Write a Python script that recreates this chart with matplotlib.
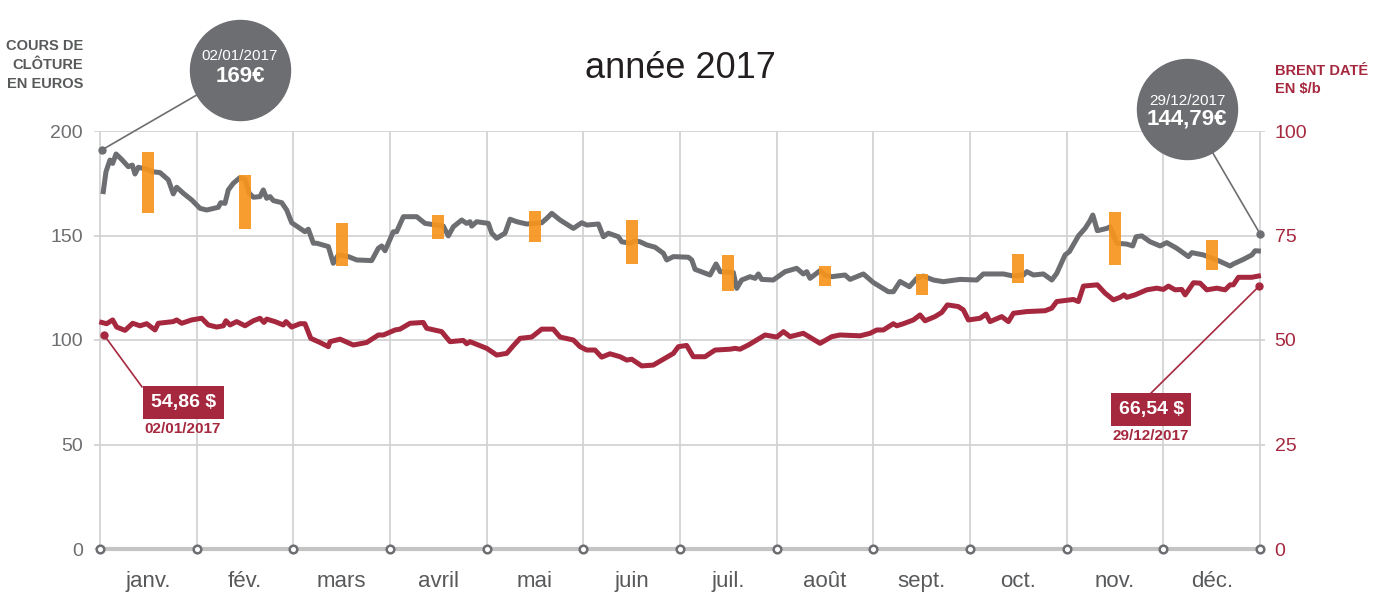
import matplotlib
matplotlib.use('Agg')
import matplotlib.pyplot as plt
import numpy as np

# position in months (0 = 1er janvier, 12 = 31 decembre)
cours_mois = [0.034, 0.062, 0.103, 0.131, 0.166, 0.224, 0.293, 0.334, 0.362, 0.396,
              0.483, 0.545, 0.621, 0.707, 0.758, 0.793, 0.862, 0.949, 1.034, 1.104,
              1.224, 1.249, 1.293, 1.327, 1.379, 1.448, 1.500, 1.544, 1.586, 1.655,
              1.689, 1.724, 1.759, 1.793, 1.880, 1.931, 1.983, 2.069, 2.120, 2.155,
              2.207, 2.242, 2.362, 2.413, 2.465, 2.569, 2.655, 2.810, 2.879, 2.914,
              2.948, 3.034, 3.068, 3.138, 3.276, 3.362, 3.551, 3.603, 3.655, 3.741,
              3.792, 3.827, 3.845, 3.896, 4.017, 4.052, 4.103, 4.189, 4.241, 4.310,
              4.414, 4.500, 4.569, 4.621, 4.673, 4.759, 4.896, 4.983, 5.034, 5.155,
              5.207, 5.258, 5.362, 5.397, 5.483, 5.534, 5.586, 5.655, 5.741, 5.827,
              5.862, 5.931, 6.086, 6.121, 6.155, 6.310, 6.372, 6.414, 6.551, 6.586,
              6.637, 6.724, 6.776, 6.810, 6.844, 6.964, 7.086, 7.206, 7.275, 7.310,
              7.344, 7.448, 7.500, 7.569, 7.706, 7.758, 7.896, 7.999, 8.154, 8.206,
              8.275, 8.372, 8.448, 8.516, 8.620, 8.723, 8.896, 9.069, 9.137, 9.344,
              9.448, 9.551, 9.586, 9.655, 9.758, 9.845, 9.896, 9.982, 10.027, 10.120,
              10.189, 10.234, 10.269, 10.316, 10.414, 10.448, 10.517, 10.620, 10.682, 10.717,
              10.776, 10.862, 10.965, 11.034, 11.137, 11.258, 11.293, 11.413, 11.551, 11.689,
              11.723, 11.827, 11.914, 11.948, 11.982]
cours = [171.0, 180.5, 186.1, 184.5, 189.0, 186.4, 182.9, 183.7, 179.4, 182.6,
         181.8, 180.5, 180.1, 176.6, 169.9, 173.1, 170.2, 167.0, 163.0, 162.2,
         163.5, 165.7, 165.4, 171.8, 175.0, 177.7, 176.9, 170.2, 168.3, 168.6,
         171.8, 167.8, 168.6, 166.7, 165.7, 162.2, 156.1, 153.4, 151.8, 153.0,
         146.3, 146.3, 144.7, 136.7, 140.7, 139.9, 138.3, 138.0, 143.9, 145.0,
         142.7, 151.8, 151.8, 159.0, 159.0, 155.8, 154.5, 149.8, 154.2, 157.4,
         155.8, 156.6, 154.5, 156.6, 155.8, 151.1, 148.7, 151.1, 157.8, 156.6,
         155.5, 155.8, 156.1, 158.2, 160.6, 157.4, 153.4, 156.1, 155.0, 155.5,
         149.4, 151.1, 149.4, 147.0, 146.3, 147.5, 147.0, 145.5, 144.4, 141.5,
         138.3, 139.9, 139.6, 138.3, 133.8, 131.1, 136.4, 132.7, 132.3, 124.7,
         128.7, 130.3, 129.5, 131.6, 129.0, 128.7, 132.7, 134.3, 131.6, 132.7,
         129.5, 133.2, 131.1, 130.3, 131.1, 129.0, 131.6, 127.5, 123.1, 123.1,
         128.0, 125.5, 129.5, 130.6, 128.7, 127.9, 129.0, 128.7, 131.6, 131.6,
         130.6, 131.1, 132.7, 131.1, 131.6, 128.7, 131.9, 140.7, 142.3, 149.8,
         153.4, 156.6, 159.8, 152.3, 153.4, 154.2, 146.3, 145.9, 145.0, 149.4,
         149.8, 147.0, 145.0, 146.6, 143.9, 139.9, 141.8, 140.7, 138.3, 135.4,
         136.4, 138.6, 140.7, 142.7, 142.6]

brent_mois = [0.018, 0.069, 0.131, 0.172, 0.259, 0.338, 0.414, 0.483, 0.569, 0.603,
              0.758, 0.793, 0.845, 0.948, 1.052, 1.120, 1.207, 1.276, 1.303, 1.345,
              1.414, 1.500, 1.586, 1.655, 1.696, 1.724, 1.810, 1.896, 1.924, 1.983,
              2.069, 2.120, 2.180, 2.276, 2.362, 2.379, 2.483, 2.620, 2.758, 2.879,
              2.931, 3.052, 3.103, 3.207, 3.344, 3.379, 3.534, 3.620, 3.758, 3.793,
              3.827, 4.000, 4.103, 4.207, 4.274, 4.345, 4.465, 4.569, 4.688, 4.759,
              4.896, 4.965, 5.034, 5.120, 5.189, 5.275, 5.379, 5.448, 5.500, 5.603,
              5.723, 5.827, 5.931, 5.982, 6.068, 6.137, 6.258, 6.362, 6.517, 6.569,
              6.620, 6.706, 6.879, 7.000, 7.069, 7.138, 7.275, 7.448, 7.569, 7.655,
              7.862, 7.965, 8.034, 8.103, 8.206, 8.241, 8.310, 8.413, 8.482, 8.534,
              8.637, 8.707, 8.765, 8.878, 8.930, 8.982, 9.103, 9.165, 9.206, 9.327,
              9.396, 9.448, 9.586, 9.775, 9.844, 9.896, 10.068, 10.120, 10.172, 10.316,
              10.396, 10.482, 10.551, 10.593, 10.620, 10.706, 10.827, 10.930, 10.999, 11.051,
              11.120, 11.189, 11.224, 11.310, 11.379, 11.448, 11.551, 11.637, 11.689, 11.723,
              11.775, 11.913, 11.982]
brent = [54.2, 53.9, 54.8, 53.1, 52.3, 54.0, 53.4, 53.9, 52.4, 54.0,
         54.4, 54.8, 54.0, 54.8, 55.2, 53.6, 53.1, 53.4, 54.6, 53.6,
         54.4, 53.4, 54.6, 55.2, 54.2, 55.0, 54.4, 53.6, 54.4, 53.1,
         53.9, 53.9, 50.4, 49.4, 48.4, 49.6, 50.2, 48.8, 49.4, 51.2,
         51.2, 52.4, 52.6, 54.0, 54.2, 52.8, 52.0, 49.6, 49.9, 49.1,
         49.6, 48.0, 46.4, 46.8, 48.6, 50.4, 50.7, 52.6, 52.6, 50.7,
         50.0, 48.4, 47.6, 47.6, 45.9, 46.7, 46.0, 45.2, 45.4, 43.8,
         44.0, 45.4, 46.8, 48.4, 48.7, 46.0, 46.0, 47.6, 47.8, 48.0,
         47.8, 48.8, 51.2, 50.7, 52.0, 50.8, 51.6, 49.2, 50.8, 51.2,
         51.0, 51.6, 52.4, 52.4, 53.9, 53.4, 53.9, 54.8, 56.0, 54.6,
         55.6, 56.6, 58.4, 58.0, 57.2, 54.8, 55.2, 56.2, 54.4, 55.6,
         54.4, 56.4, 56.8, 57.0, 57.6, 59.2, 59.7, 59.2, 62.9, 63.2,
         61.2, 59.6, 60.2, 60.8, 60.2, 60.8, 62.0, 62.4, 62.1, 62.9,
         62.0, 62.1, 60.8, 63.7, 63.6, 62.0, 62.4, 62.0, 63.2, 63.2,
         65.0, 65.0, 65.3]

# fourchette mensuelle (min / max) du cours
fourchette_min = [160.8, 153.3, 135.6, 148.5, 146.9, 136.4, 123.6, 126.0, 121.7, 127.4, 136.0, 133.5]
fourchette_max = [190.0, 179.0, 156.0, 159.8, 161.9, 157.4, 140.7, 135.4, 131.6, 141.1, 161.2, 147.8]

mois = ['janv.', 'fév.', 'mars', 'avril', 'mai', 'juin', 'juil.', 'août',
        'sept.', 'oct.', 'nov.', 'déc.']

GRIS = '#6d6e71'
ROUGE = '#a6283f'
ORANGE = '#f7941d'
GRILLE = '#d3d3d3'

plt.rcParams['font.family'] = ['Liberation Sans', 'DejaVu Sans']

fig = plt.figure(figsize=(13.86, 5.98), dpi=100)
ax = fig.add_axes([94/1386, 49/598, 1171/1386, 418/598])
ax.set_xlim(-0.062, 12.05)
ax.set_ylim(0, 200)

ax.set_xticks(range(13))
ax.set_xticks(np.arange(12) + 0.5, minor=True)
ax.set_xticklabels([''] * 13)
ax.set_xticklabels(mois, minor=True, fontsize=16, color='#58595b')
ax.tick_params(axis='x', which='both', length=0)
ax.tick_params(axis='x', which='minor', pad=16)
ax.set_yticks([0, 50, 100, 150, 200])
ax.tick_params(axis='y', length=0, pad=8, labelsize=14, labelcolor=GRIS)
ax.grid(True, color=GRILLE, lw=1.3)
for s in ax.spines.values():
    s.set_visible(False)

# axe du bas
ax.plot([0, 12], [0, 0], color='#c4c4c4', lw=3, clip_on=False, zorder=3)
ax.plot(range(13), [0] * 13, 'o', mfc='white', mec=GRIS, mew=1.8, ms=5.5,
        clip_on=False, zorder=4)

ax.plot(cours_mois, cours, color=GRIS, lw=3.6, solid_joinstyle='round', zorder=5)
centres = np.arange(12) + 0.5
ax.bar(centres, np.array(fourchette_max) - np.array(fourchette_min), bottom=fourchette_min,
       width=0.124, color=ORANGE, alpha=0.92, zorder=6)

ax2 = ax.twinx()
ax2.set_ylim(0, 100)
ax2.set_yticks([0, 25, 50, 75, 100])
ax2.tick_params(axis='y', length=0, pad=7, labelsize=14, labelcolor=ROUGE)
for s in ax2.spines.values():
    s.set_visible(False)
ax2.plot(brent_mois, brent, color=ROUGE, lw=3.6, solid_joinstyle='round', zorder=5)

# bulles grises
ax.plot([0.018, 1.448], [190.9, 229.2], color=GRIS, lw=1.2, clip_on=False, zorder=7)
ax.plot([0.018], [190.9], 'o', color=GRIS, ms=5, clip_on=False, zorder=7)
ax.scatter([1.448], [229.2], s=5184, color=GRIS, clip_on=False, zorder=8)
ax.text(1.448, 235.8, '02/01/2017', ha='center', va='center', color='white',
        fontsize=11, clip_on=False, zorder=9)
ax.text(1.448, 226.0, '169€', ha='center', va='center', color='white',
        fontsize=16, fontweight='bold', clip_on=False, zorder=9)

ax.plot([12.0, 11.245], [150.7, 210.5], color=GRIS, lw=1.2, clip_on=False, zorder=7)
ax.plot([12.0], [150.7], 'o', color=GRIS, ms=5, clip_on=False, zorder=7)
ax.scatter([11.245], [210.5], s=5184, color=GRIS, clip_on=False, zorder=8)
ax.text(11.245, 214.5, '29/12/2017', ha='center', va='center', color='white',
        fontsize=11, clip_on=False, zorder=9)
ax.text(11.245, 205.9, '144,79€', ha='center', va='center', color='white',
        fontsize=16, fontweight='bold', clip_on=False, zorder=9)

# etiquettes rouges
ax2.plot([0.041, 0.434], [51.2, 38.8], color=ROUGE, lw=1.2, zorder=7)
ax2.plot([0.041], [51.2], 'o', color=ROUGE, ms=5, zorder=7)
ax2.text(0.864, 35.05, '54,86 $', ha='center', va='center', color='white',
         fontsize=14, fontweight='bold', zorder=9,
         bbox=dict(boxstyle='square,pad=0.4', fc=ROUGE, ec='none'))
ax2.text(0.858, 28.7, '02/01/2017', ha='center', va='center', color=ROUGE,
         fontsize=11, fontweight='bold')

ax2.plot([11.99, 10.862], [62.9, 37.1], color=ROUGE, lw=1.2, zorder=7)
ax2.plot([11.99], [62.9], 'o', color=ROUGE, ms=5, zorder=7)
ax2.text(10.872, 33.4, '66,54 $', ha='center', va='center', color='white',
         fontsize=14, fontweight='bold', zorder=9,
         bbox=dict(boxstyle='square,pad=0.4', fc=ROUGE, ec='none'))
ax2.text(10.872, 27.0, '29/12/2017', ha='center', va='center', color=ROUGE,
         fontsize=11, fontweight='bold')

fig.text(680/1386, 1 - 68/598, 'année 2017', ha='center', va='center',
         fontsize=26, color='#231f20')
fig.text(83/1386, 1 - 65/598, 'COURS DE\nCLÔTURE\nEN EUROS', ha='right', va='center',
         fontsize=10.5, fontweight='bold', color='#58595b', linespacing=1.45)
fig.text(1275/1386, 1 - 80/598, 'BRENT DATÉ\nEN $/b', ha='left', va='center',
         fontsize=10.5, fontweight='bold', color=ROUGE, linespacing=1.45)

fig.savefig('out.png', dpi=100)
